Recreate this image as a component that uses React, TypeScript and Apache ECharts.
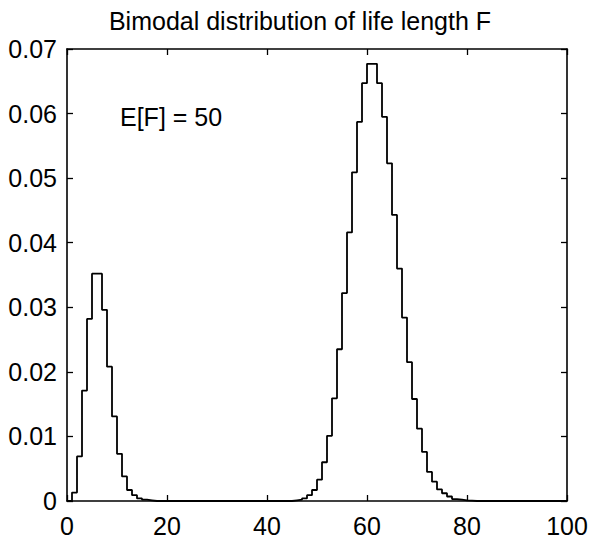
import React, { useEffect, useRef } from "react";
import * as echarts from "echarts";

const titleText = "Bimodal distribution of life length F";
const annotation = "E[F] = 50";
const xTicks = [0, 20, 40, 60, 80, 100];
const yTicks = [0, 0.01, 0.02, 0.03, 0.04, 0.05, 0.06, 0.07];

// left mode: bins starting at x = 1
const leftStart = 1;
const leftPeak = [
  0.0013, 0.0069, 0.0171, 0.0282, 0.0352, 0.0352, 0.0296, 0.0208, 0.0131,
  0.0073, 0.0038, 0.0017, 0.0009, 0.0004, 0.0002, 0.0001,
];
// right mode: bins starting at x = 45
const rightStart = 45;
const rightPeak = [
  0.0001, 0.0002, 0.0004, 0.0009, 0.0017, 0.0033, 0.006, 0.0101, 0.0159,
  0.0235, 0.0322, 0.0416, 0.0509, 0.0587, 0.0647, 0.0677, 0.0677, 0.0647,
  0.0595, 0.0523, 0.0443, 0.036, 0.0284, 0.0215, 0.0158, 0.0112, 0.0076,
  0.0045, 0.003, 0.0018, 0.0012, 0.0007, 0.0003, 0.0002, 0.0001, 0.00005,
];
const xMax = 100;

const FONT = "'Liberation Sans', Arial, Helvetica, sans-serif";

export default function App() {
  const ref = useRef<HTMLDivElement>(null);
  useEffect(() => {
    document.body.style.margin = "0";
    if (!ref.current) return;
    const chart = echarts.init(ref.current, undefined, { renderer: "svg" });
    const data: [number, number][] = [];
    for (let x = 0; x <= xMax; x++) {
      let v = 0;
      if (x >= leftStart && x < leftStart + leftPeak.length) v = leftPeak[x - leftStart];
      if (x >= rightStart && x < rightStart + rightPeak.length) v = rightPeak[x - rightStart];
      data.push([x, v]);
    }
    const axisLine = { show: true, onZero: false, lineStyle: { color: "#000", width: 1.6 } };
    const tick = { show: true, inside: true, length: 6, lineStyle: { color: "#000", width: 1.3 } };
    chart.setOption({
      animation: false,
      backgroundColor: "#fff",
      grid: { left: 67, right: 25, top: 49, bottom: 41, containLabel: false },
      xAxis: [
        {
          type: "value",
          min: 0,
          max: 100,
          interval: 20,
          position: "bottom",
          axisLine,
          axisTick: tick,
          splitLine: { show: false },
          axisLabel: {
            show: true,
            color: "#000",
            fontSize: 25,
            fontFamily: FONT,
            margin: 12,
            formatter: (v: number) => (xTicks.includes(v) ? String(v) : ""),
          },
        },
        {
          type: "value",
          min: 0,
          max: 100,
          interval: 20,
          position: "top",
          axisLine,
          axisTick: tick,
          splitLine: { show: false },
          axisLabel: { show: false },
        },
      ],
      yAxis: [
        {
          type: "value",
          min: 0,
          max: 0.07,
          interval: 0.01,
          position: "left",
          axisLine,
          axisTick: tick,
          splitLine: { show: false },
          axisLabel: {
            show: true,
            color: "#000",
            fontSize: 25,
            fontFamily: FONT,
            margin: 10,
            formatter: (v: number) => {
              const t = yTicks.find((y) => Math.abs(y - v) < 1e-9);
              if (t === undefined) return "";
              return t === 0 ? "0" : t.toFixed(2);
            },
          },
        },
        {
          type: "value",
          min: 0,
          max: 0.07,
          interval: 0.01,
          position: "right",
          axisLine,
          axisTick: tick,
          splitLine: { show: false },
          axisLabel: { show: false },
        },
      ],
      series: [
        {
          type: "line",
          step: "end",
          data,
          xAxisIndex: 0,
          yAxisIndex: 0,
          showSymbol: false,
          symbol: "none",
          lineStyle: { color: "#000", width: 1.8 },
          z: 3,
        },
      ],
      graphic: [
        {
          type: "text",
          x: 300,
          y: 21,
          style: {
            text: titleText,
            fill: "#000",
            font: `25px ${FONT}`,
            textAlign: "center",
            textVerticalAlign: "middle",
          },
        },
        {
          type: "text",
          x: 120,
          y: 117,
          style: {
            text: annotation,
            fill: "#000",
            font: `25px ${FONT}`,
            textAlign: "left",
            textVerticalAlign: "middle",
          },
        },
      ],
    });
    return () => chart.dispose();
  }, []);
  return <div ref={ref} style={{ width: 592, height: 542 }} />;
}
